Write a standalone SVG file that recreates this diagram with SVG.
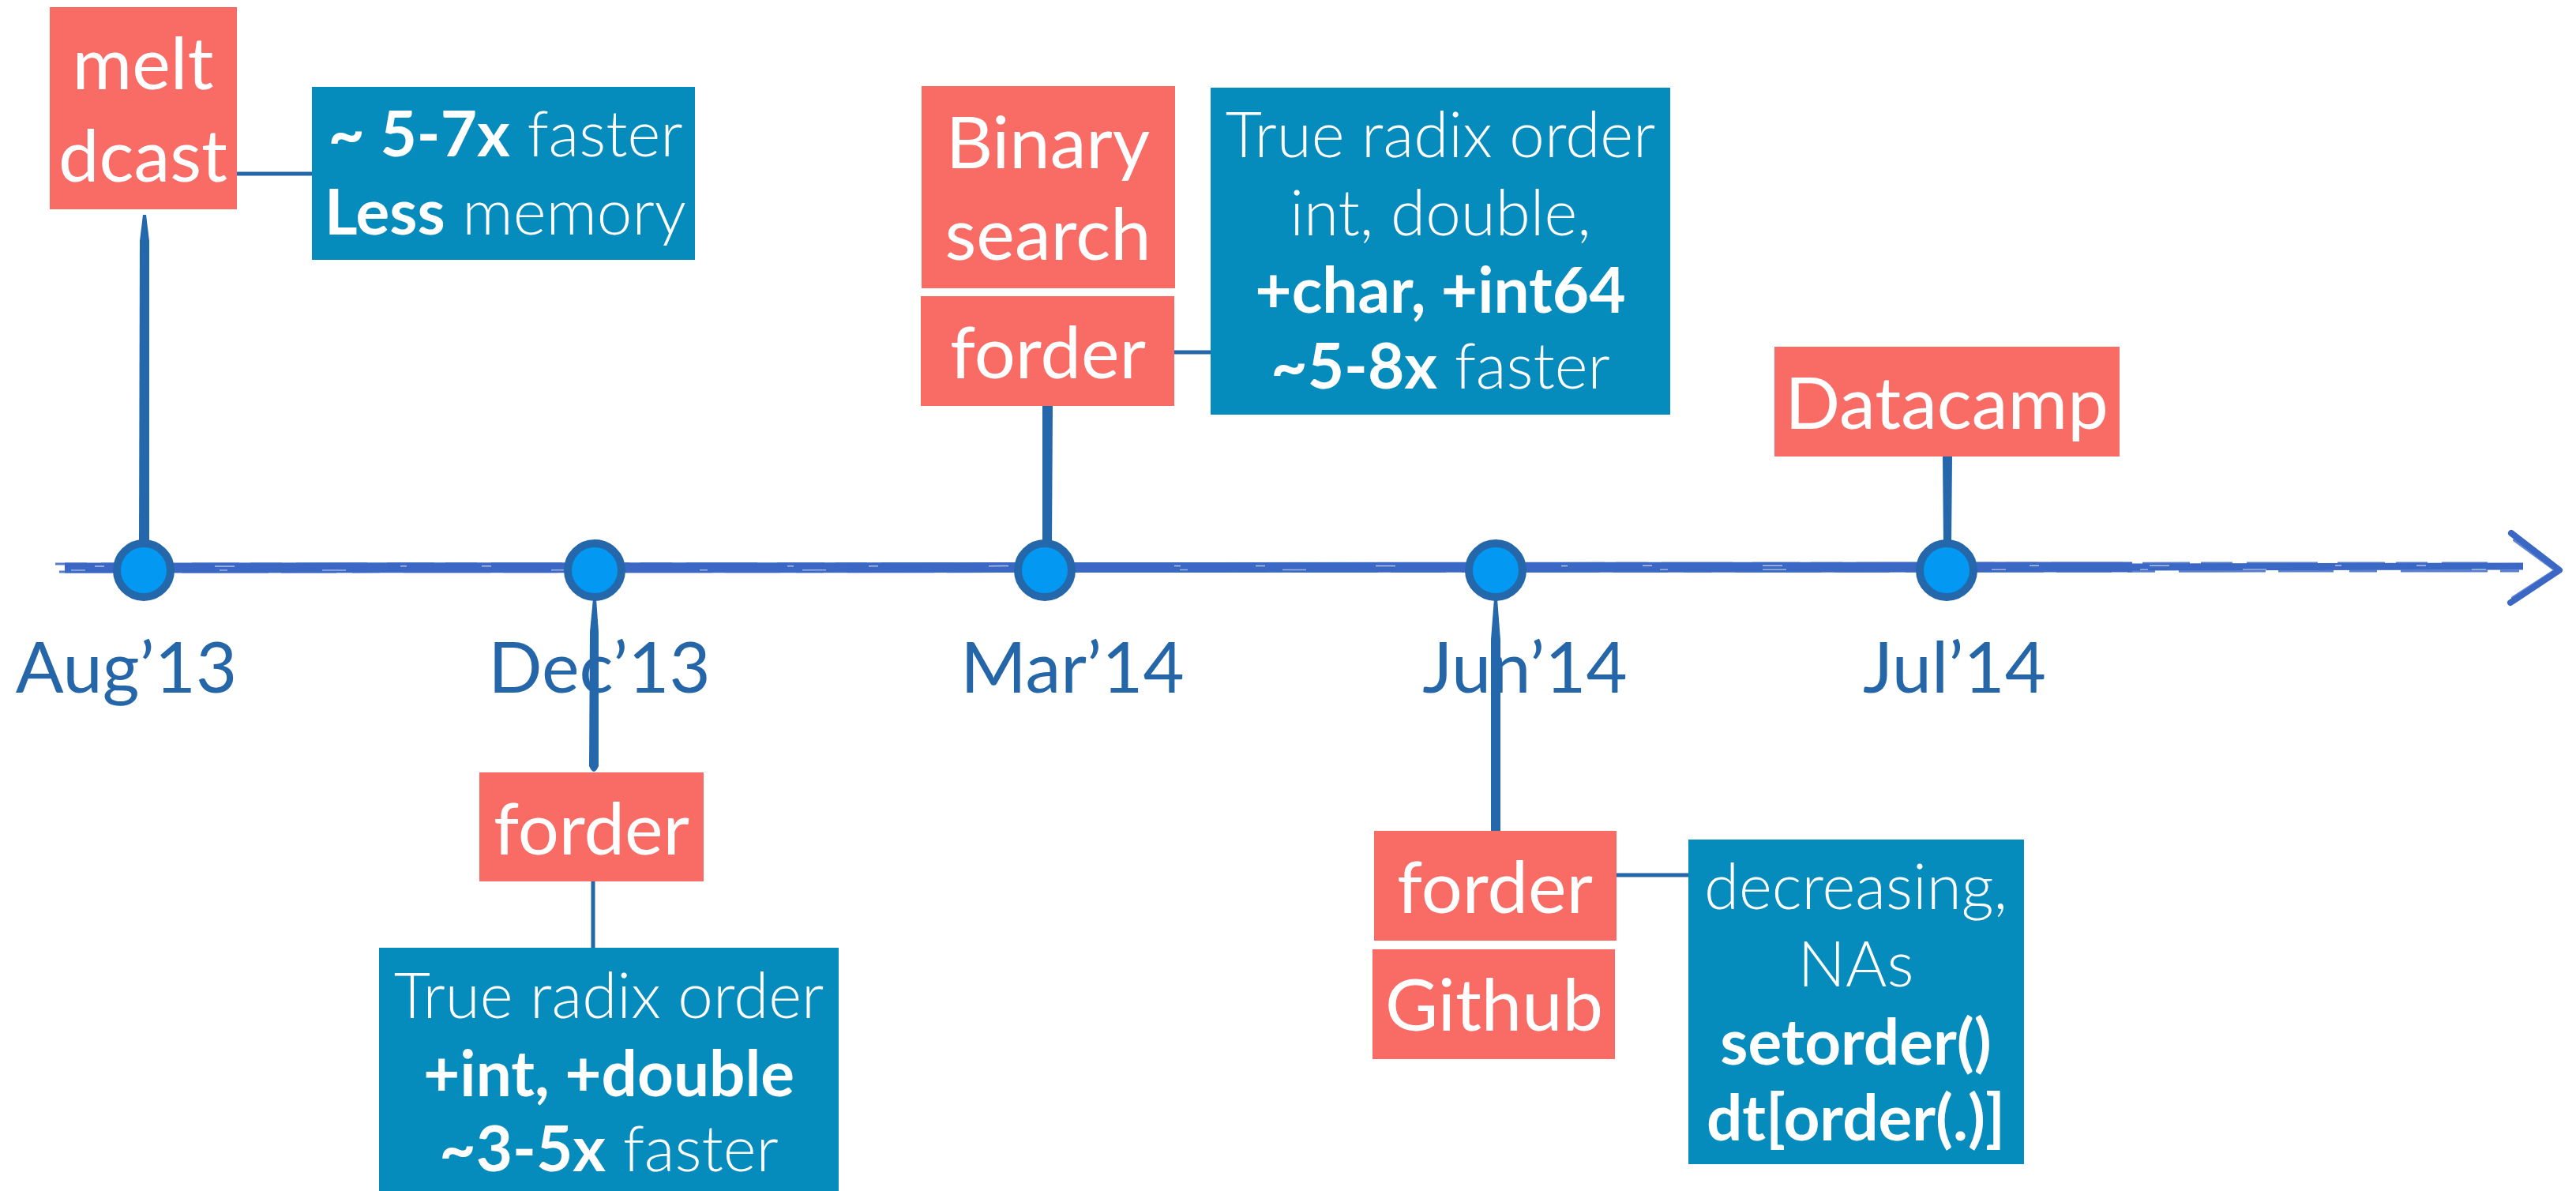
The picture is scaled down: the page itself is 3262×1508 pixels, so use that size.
<svg xmlns="http://www.w3.org/2000/svg" width="3262" height="1508" viewBox="0 0 3262 1508">
<defs>
<style>
.salmon{fill:#F96B65}
.teal{fill:#058BBC}
.st{font-family:Lato,"Liberation Sans",sans-serif;fill:#ffffff;text-anchor:middle;font-size:92px;font-weight:400}
.bt{font-family:Lato,"Liberation Sans",sans-serif;fill:#ffffff;text-anchor:middle;font-size:80px;font-weight:300}
.b{font-weight:700}
.lbl{font-family:Lato,"Liberation Sans",sans-serif;fill:#2566A8;text-anchor:middle;font-size:90px;font-weight:400}
.dot{fill:#0399F3;stroke:#2467AA;stroke-width:10}
.thin{stroke:#2566A9;stroke-width:5;fill:none}
.stem{fill:#2467AA}
.brush{stroke:#3B68C4;fill:none}
</style>
</defs>
<rect width="3262" height="1508" fill="#ffffff"/>

<g id="timeline">
  <path class="brush" d="M82,719 L2700,718" stroke-width="13"/>
  <path class="brush" d="M2700,718 L3195,717" stroke-width="9"/>
  <path class="brush" d="M70,714 L3150,713" stroke-width="3" stroke-dasharray="40 18 90 25 60 14" opacity="0.85"/>
  <path class="brush" d="M75,724 L3190,723" stroke-width="3" stroke-dasharray="70 20 35 30 110 16" opacity="0.85"/>
  <path d="M120,717 L3150,716" stroke="#ffffff" stroke-width="1.5" stroke-dasharray="12 140 25 210 8 95" opacity="0.6" fill="none"/>
  <path d="M90,722 L3150,721" stroke="#ffffff" stroke-width="1.5" stroke-dasharray="18 170 10 120 30 260" opacity="0.5" fill="none"/>
  <path class="brush" d="M3180,675 L3241,722 L3179,763" stroke-width="8" stroke-linecap="round" stroke-linejoin="round"/>
  <path class="brush" d="M3184,684 L3236,722 L3182,757" stroke-width="4" stroke-linecap="round" opacity="0.8"/>
</g>

<g id="labels">
  <text class="lbl" x="160" y="877">Aug’13</text>
  <text class="lbl" x="759" y="877">Dec’13</text>
  <text class="lbl" x="1358" y="877">Mar’14</text>
  <text class="lbl" x="1931" y="877">Jun’14</text>
  <text class="lbl" x="2475" y="877">Jul’14</text>
</g>

<g id="connectors">
  <path class="stem" d="M181,272 L185,272 L189,305 L189,690 L176,690 L177,305 Z"/>
  <path class="stem" d="M751,758 L755,758 L758,800 L758,970 Q752,984 746,970 L747,800 Z"/>
  <path class="stem" d="M1320,514 L1333,514 L1332,690 L1320,690 Z"/>
  <path class="stem" d="M1892,758 L1896,758 L1900,810 L1900,1052 L1888,1052 L1888,810 Z"/>
  <path class="stem" d="M2460,578 L2472,578 L2471,690 L2461,690 Z"/>
  <path class="thin" d="M300,220 L395,220"/>
  <path class="thin" d="M1487,446 L1533,446"/>
  <path class="thin" d="M751,1116 L751,1200"/>
  <path class="thin" d="M2047,1108 L2138,1108"/>
</g>

<g id="dots">
  <circle class="dot" cx="182" cy="722" r="34"/>
  <circle class="dot" cx="753" cy="722" r="34"/>
  <circle class="dot" cx="1323" cy="722" r="34"/>
  <circle class="dot" cx="1894" cy="722" r="34"/>
  <circle class="dot" cx="2465" cy="722" r="34"/>
</g>

<g id="node-melt-dcast">
  <rect class="salmon" x="63" y="9" width="237" height="256"/>
  <text class="st" x="181" y="113">melt</text>
  <text class="st" x="181" y="230">dcast</text>
</g>
<g id="node-aug-note">
  <rect class="teal" x="395" y="110" width="485" height="219"/>
  <text class="bt" x="640" y="198"><tspan class="b">~ 5-7x</tspan> faster</text>
  <text class="bt" x="640" y="297"><tspan class="b">Less</tspan> memory</text>
</g>

<g id="node-binary-search">
  <rect class="salmon" x="1167" y="109" width="321" height="256"/>
  <text class="st" x="1327" y="213">Binary</text>
  <text class="st" x="1327" y="329">search</text>
</g>
<g id="node-mar-forder">
  <rect class="salmon" x="1166" y="375" width="321" height="139"/>
  <text class="st" x="1327" y="479">forder</text>
</g>
<g id="node-mar-note">
  <rect class="teal" x="1533" y="111" width="582" height="414"/>
  <text class="bt" x="1824" y="199">True radix order</text>
  <text class="bt" x="1824" y="298">int, double,</text>
  <text class="bt b" x="1824" y="396">+char, +int64</text>
  <text class="bt" x="1824" y="492"><tspan class="b">~5-8x</tspan> faster</text>
</g>

<g id="node-datacamp">
  <rect class="salmon" x="2247" y="439" width="437" height="139"/>
  <text class="st" x="2465" y="543">Datacamp</text>
</g>

<g id="node-dec-forder">
  <rect class="salmon" x="607" y="978" width="284" height="138"/>
  <text class="st" x="749" y="1082">forder</text>
</g>
<g id="node-dec-note">
  <rect class="teal" x="480" y="1200" width="582" height="320"/>
  <text class="bt" x="771" y="1289">True radix order</text>
  <text class="bt b" x="771" y="1388">+int, +double</text>
  <text class="bt" x="771" y="1483"><tspan class="b">~3-5x</tspan> faster</text>
</g>

<g id="node-jun-forder">
  <rect class="salmon" x="1740" y="1052" width="307" height="139"/>
  <text class="st" x="1893" y="1156">forder</text>
</g>
<g id="node-github">
  <rect class="salmon" x="1738" y="1202" width="307" height="139"/>
  <text class="st" x="1892" y="1305">Github</text>
</g>
<g id="node-jun-note">
  <rect class="teal" x="2138" y="1063" width="425" height="411"/>
  <text class="bt" x="2350" y="1151">decreasing,</text>
  <text class="bt" x="2350" y="1249">NAs</text>
  <text class="bt b" x="2350" y="1348">setorder()</text>
  <text class="bt b" x="2350" y="1444">dt[order(.)]</text>
</g>
</svg>
